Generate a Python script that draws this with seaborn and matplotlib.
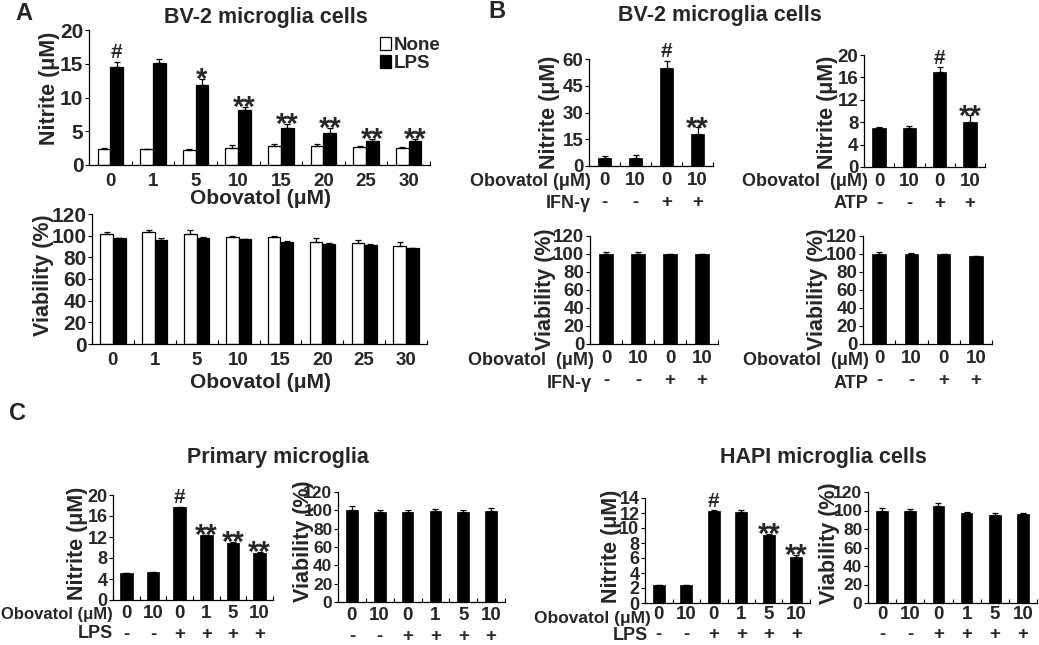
import numpy as np
import pandas as pd
import matplotlib
matplotlib.use("Agg")
import matplotlib.pyplot as plt
import seaborn as sns

# ---------------- data ----------------
a_doses = ['0', '1', '5', '10', '15', '20', '25', '30']
a_nit_none = [2.37, 2.37, 2.22, 2.47, 2.8, 2.86, 2.67, 2.47]
a_nit_none_err = [0.2, 0.05, 0.08, 0.43, 0.3, 0.2, 0.2, 0.2]
a_nit_lps = [14.57, 15.1, 11.9, 8.1, 5.53, 4.74, 3.56, 3.56]
a_nit_lps_err = [0.7, 0.65, 0.9, 0.44, 0.5, 0.74, 0.25, 0.35]
a_nit_marks = ['#', '', '*', '**', '**', '**', '**', '**']
a_via_none = [102, 103, 102, 98.5, 99, 94.5, 93.5, 90.5]
a_via_none_err = [1, 2, 3, 1, 0.5, 3.5, 2.5, 3.5]
a_via_lps = [97.5, 96, 98, 96.5, 94.5, 92.3, 91.4, 88.3]
a_via_lps_err = [0.5, 1.5, 0.5, 0.8, 0.5, 1, 1, 0.5]

b_obov = ['0', '10', '0', '10']
b_sign = ['-', '-', '+', '+']
b_ifn = [4.7, 4.7, 54.9, 17.7]
b_ifn_err = [1.1, 1.5, 4.1, 3.9]
b_ifn_marks = ['', '', '#', '**']
b_atp = [7.05, 7.05, 16.9, 8.0]
b_atp_err = [0.05, 0.2, 0.9, 1.2]
b_atp_marks = ['', '', '#', '**']
b_ifn_via = [100, 100, 99.5, 99.5]
b_ifn_via_err = [2.5, 2, 0.8, 0.4]
b_atp_via = [100, 100, 99.5, 97.5]
b_atp_via_err = [2, 1, 1, 0.5]

c_obov = ['0', '10', '0', '1', '5', '10']
c_sign = ['-', '-', '+', '+', '+', '+']
c_pri = [5.1, 5.3, 17.65, 12.3, 10.9, 9.0]
c_pri_err = [0.05, 0.05, 0.12, 0.12, 0.12, 0.15]
c_pri_marks = ['', '', '#', '**', '**', '**']
c_pri_via = [100.7, 98.2, 97.8, 98.9, 98.2, 99.3]
c_pri_via_err = [3.7, 1.8, 2.2, 2.6, 2.2, 3.2]
c_hapi = [2.35, 2.35, 12.3, 12.2, 9.08, 6.17]
c_hapi_err = [0.02, 0.02, 0.05, 0.25, 0.12, 0.22]
c_hapi_marks = ['', '', '#', '', '**', '**']
c_hapi_via = [99.3, 99.3, 105.4, 97.5, 95.0, 95.7]
c_hapi_via_err = [2.9, 2.2, 2.9, 1.1, 1.8, 1.8]

# ---------------- style ----------------
sns.set_style("ticks")
plt.rcParams['font.family'] = ['Liberation Sans', 'DejaVu Sans']
plt.rcParams['font.weight'] = 'bold'
plt.rcParams['axes.labelweight'] = 'bold'
plt.rcParams['axes.linewidth'] = 0.9
plt.rcParams['axes.edgecolor'] = 'black'

W, H = 1039, 645
fig = plt.figure(figsize=(W / 100, H / 100), dpi=100)
fig.patch.set_facecolor('white')


def fx(x):
    return x / W


def fy(y):
    return 1 - y / H


def make_ax(x0, y0, x1, y1):
    return fig.add_axes([fx(x0), fy(y1), (x1 - x0) / W, (y1 - y0) / H])


def style_ax(ax, n, ymax, ystep, ylabel, lab_xy, ytick_fs=13.5, xtick_fs=13.5, xpad=4.5):
    sns.despine(ax=ax)
    ax.set_ylim(0, ymax)
    ax.set_yticks(np.arange(0, ymax + 0.001, ystep))
    ax.set_xlim(-0.5, n - 0.5)
    ax.set_xticks(np.arange(n + 1) - 0.5, minor=True)
    ax.tick_params(axis='x', which='minor', direction='in', length=3, width=0.8, color='black')
    ax.tick_params(axis='x', which='major', length=0, pad=xpad, labelsize=xtick_fs)
    ax.tick_params(axis='y', which='major', direction='out', length=3, width=0.8,
                   pad=1, labelsize=ytick_fs, color='black')
    for lab in ax.get_yticklabels():
        lab.set_fontweight('bold')
    ax.set_xlabel('')
    ax.set_ylabel(ylabel, fontsize=15.5, fontweight='bold', va='center')
    ax.yaxis.set_label_coords(fx(lab_xy[0]), fy(lab_xy[1]), transform=fig.transFigure)


def add_err(ax, container, errs, marks=None):
    xs = [p.get_x() + p.get_width() / 2 for p in container.patches]
    ys = [p.get_height() for p in container.patches]
    ax.errorbar(xs, ys, yerr=[np.zeros(len(errs)), errs], fmt='none', ecolor='black',
                elinewidth=0.9, capsize=2.2, capthick=0.9, zorder=3)
    if marks:
        for x, y, e, m in zip(xs, ys, errs, marks):
            if not m:
                continue
            if m == '#':
                ax.annotate(m, (x, y + e), xytext=(0, 2.5), textcoords='offset points',
                            ha='center', va='baseline', fontsize=15, fontweight='bold',
                            annotation_clip=False)
            else:
                ax.annotate(m, (x, y + e), xytext=(0, -6.5), textcoords='offset points',
                            ha='center', va='baseline', fontsize=21, fontweight='bold',
                            annotation_clip=False)


def single_bars(ax, values, errs, width, marks=None):
    df = pd.DataFrame({'pos': np.arange(len(values)), 'val': values})
    sns.barplot(data=df, x='pos', y='val', color='black', saturation=1, width=width,
                edgecolor='black', linewidth=0.5, errorbar=None, ax=ax)
    add_err(ax, ax.containers[0], errs, marks)


def two_row_ticks(ax, top, bottom, ls=1.4):
    ax.set_xticks(np.arange(len(top)))
    ax.set_xticklabels([f"{t}\n{b}" for t, b in zip(top, bottom)], linespacing=ls,
                       fontweight='bold')


def row_label(x, y, s, fs=13):
    fig.text(fx(x), fy(y), s, ha='right', va='center', fontsize=fs, fontweight='bold')


# ---------------- Panel A ----------------
ax = make_ax(89, 30, 430, 165)
df = pd.DataFrame({'dose': a_doses * 2,
                   'treat': ['None'] * len(a_doses) + ['LPS'] * len(a_doses),
                   'val': a_nit_none + a_nit_lps})
sns.barplot(data=df, x='dose', y='val', hue='treat', order=a_doses, hue_order=['None', 'LPS'],
            palette={'None': 'white', 'LPS': 'black'}, saturation=1, width=0.6,
            edgecolor='black', linewidth=0.9, errorbar=None, ax=ax)
add_err(ax, ax.containers[0], a_nit_none_err)
add_err(ax, ax.containers[1], a_nit_lps_err, a_nit_marks)
style_ax(ax, len(a_doses), 20, 5, 'Nitrite (\u03bcM)', (50, 88), ytick_fs=15, xpad=5.5)
ax.set_xticks(np.arange(len(a_doses)))
ax.set_xticklabels(a_doses, fontweight='bold')
h, l = ax.get_legend_handles_labels()
ax.legend(h, l, loc='upper left', bbox_to_anchor=(fx(380), fy(37)), bbox_transform=fig.transFigure,
          frameon=False, handlelength=0.6, handleheight=0.7, handletextpad=0.15,
          labelspacing=0.05, borderpad=0, borderaxespad=0,
          prop={'weight': 'bold', 'size': 13.5})
fig.text(fx(261), fy(198), 'Obovatol (\u03bcM)', ha='center', va='center', fontsize=15, fontweight='bold')

ax = make_ax(92, 214, 427, 344)
df = pd.DataFrame({'dose': a_doses * 2,
                   'treat': ['None'] * len(a_doses) + ['LPS'] * len(a_doses),
                   'val': a_via_none + a_via_lps})
sns.barplot(data=df, x='dose', y='val', hue='treat', order=a_doses, hue_order=['None', 'LPS'],
            palette={'None': 'white', 'LPS': 'black'}, saturation=1, width=0.6,
            edgecolor='black', linewidth=0.9, errorbar=None, legend=False, ax=ax)
add_err(ax, ax.containers[0], a_via_none_err)
add_err(ax, ax.containers[1], a_via_lps_err)
style_ax(ax, len(a_doses), 120, 20, 'Viability (%)', (43, 275), ytick_fs=15, xpad=5.5)
ax.set_xticks(np.arange(len(a_doses)))
ax.set_xticklabels(a_doses, fontweight='bold')
fig.text(fx(261), fy(382), 'Obovatol (\u03bcM)', ha='center', va='center', fontsize=15, fontweight='bold')

# ---------------- Panel B ----------------
ax = make_ax(589, 59, 713, 166)
single_bars(ax, b_ifn, b_ifn_err, 0.42, b_ifn_marks)
style_ax(ax, 4, 60, 15, 'Nitrite (\u03bcM)', (550, 112))
two_row_ticks(ax, b_obov, b_sign)
row_label(591, 182, 'Obovatol (\u03bcM)')
row_label(591, 203, 'IFN-\u03b3')

ax = make_ax(864, 55, 985, 167)
single_bars(ax, b_atp, b_atp_err, 0.45, b_atp_marks)
style_ax(ax, 4, 20, 4, 'Nitrite (\u03bcM)', (828, 112))
two_row_ticks(ax, b_obov, b_sign)
row_label(868, 182, 'Obovatol  (\u03bcM)')
row_label(868, 203, 'ATP')

ax = make_ax(590, 236, 718, 344)
single_bars(ax, b_ifn_via, b_ifn_via_err, 0.42)
style_ax(ax, 4, 120, 20, 'Viability (%)', (545, 289))
two_row_ticks(ax, b_obov, b_sign)
row_label(594, 361, 'Obovatol  (\u03bcM)')
row_label(592, 383, 'IFN-\u03b3')

ax = make_ax(863, 236, 992, 344)
single_bars(ax, b_atp_via, b_atp_via_err, 0.42)
style_ax(ax, 4, 120, 20, 'Viability (%)', (817, 289))
two_row_ticks(ax, b_obov, b_sign)
row_label(869, 361, 'Obovatol  (\u03bcM)')
row_label(868, 383, 'ATP')

# ---------------- Panel C ----------------
ax = make_ax(113, 495, 273, 600)
single_bars(ax, c_pri, c_pri_err, 0.48, c_pri_marks)
style_ax(ax, 6, 20, 4, 'Nitrite (\u03bcM)', (77, 543), ytick_fs=13, xpad=3.5)
two_row_ticks(ax, c_obov, c_sign, ls=1.3)
row_label(113, 614, 'Obovatol (\u03bcM)', fs=12)
row_label(113, 634, 'LPS')

ax = make_ax(338, 492, 505, 602)
single_bars(ax, c_pri_via, c_pri_via_err, 0.42)
style_ax(ax, 6, 120, 20, 'Viability (%)', (304, 541), ytick_fs=12.5, xpad=3.5)
two_row_ticks(ax, c_obov, c_sign, ls=1.3)

ax = make_ax(645, 498, 810, 603)
single_bars(ax, c_hapi, c_hapi_err, 0.45, c_hapi_marks)
style_ax(ax, 6, 14, 2, 'Nitrite (\u03bcM)', (612, 546), ytick_fs=13, xpad=2.5)
two_row_ticks(ax, c_obov, c_sign, ls=1.2)
row_label(651, 618, 'Obovatol (\u03bcM)', fs=12.5)
row_label(648, 635, 'LPS')

ax = make_ax(868, 492, 1037, 603)
single_bars(ax, c_hapi_via, c_hapi_via_err, 0.42)
style_ax(ax, 6, 120, 20, 'Viability (%)', (829, 543), ytick_fs=12.5, xpad=2.5)
two_row_ticks(ax, c_obov, c_sign, ls=1.2)

# ---------------- titles / letters ----------------
fig.text(fx(266), fy(17), 'BV-2 microglia cells', ha='center', va='center', fontsize=15.5, fontweight='bold')
fig.text(fx(720), fy(16), 'BV-2 microglia cells', ha='center', va='center', fontsize=15.5, fontweight='bold')
fig.text(fx(278), fy(458), 'Primary microglia', ha='center', va='center', fontsize=15.5, fontweight='bold')
fig.text(fx(823), fy(458), 'HAPI microglia cells', ha='center', va='center', fontsize=15.5, fontweight='bold')
fig.text(fx(24), fy(13), 'A', ha='center', va='center', fontsize=17, fontweight='bold')
fig.text(fx(497), fy(11), 'B', ha='center', va='center', fontsize=17, fontweight='bold')
fig.text(fx(18), fy(413), 'C', ha='center', va='center', fontsize=17, fontweight='bold')

fig.savefig('out.png', dpi=100, facecolor='white')
